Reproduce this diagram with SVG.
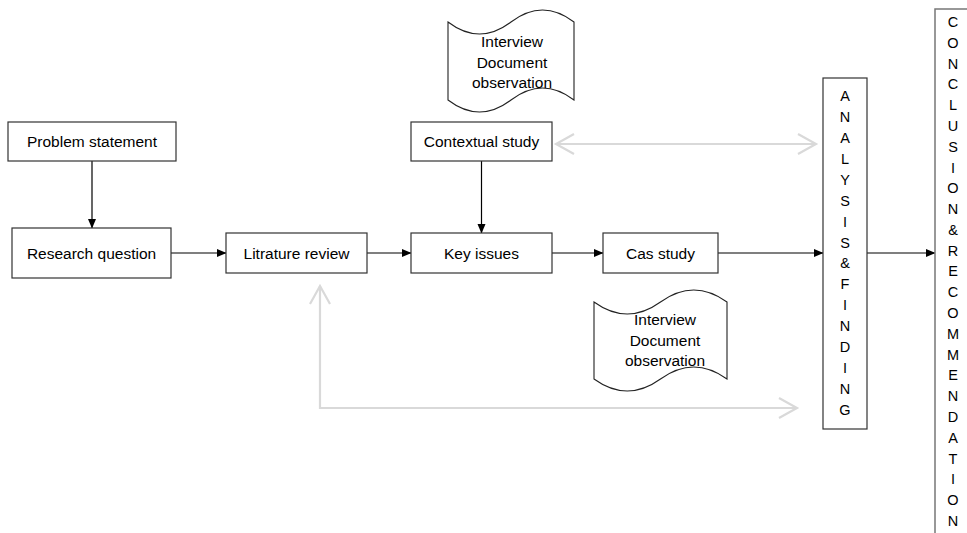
<svg xmlns="http://www.w3.org/2000/svg" width="967" height="533" viewBox="0 0 967 533">
<style>
  .box { fill: #ffffff; stroke: #333333; stroke-width: 1.2; }
  .doc { fill: #ffffff; stroke: #222222; stroke-width: 1.1; }
  .lbl { font-family: "Liberation Sans", Arial, sans-serif; font-size: 15.5px; fill: #000000; text-anchor: middle; }
  .vlbl { font-family: "Liberation Sans", Arial, sans-serif; font-size: 14.5px; fill: #000000; text-anchor: middle; }
  .conn { fill: none; stroke: #000000; stroke-width: 1.2; }
  .gray { fill: none; stroke: #d9d9d9; stroke-width: 2.2; }
</style>
<defs>
  <marker id="ah" markerWidth="10" markerHeight="10" refX="9" refY="5" orient="auto" markerUnits="userSpaceOnUse">
    <path d="M0,1 L9.5,5 L0,9 Z" fill="#000000"/>
  </marker>
  <marker id="gh" markerWidth="22" markerHeight="24" refX="19" refY="12" orient="auto-start-reverse" markerUnits="userSpaceOnUse">
    <path d="M1,2 L19,12 L1,22" fill="none" stroke="#d9d9d9" stroke-width="2.2"/>
  </marker>
</defs>
<rect width="967" height="533" fill="#ffffff"/>

<g id="connectors">
  <line class="conn" x1="92" y1="161" x2="92" y2="228" marker-end="url(#ah)"/>
  <line class="conn" x1="171" y1="253" x2="226" y2="253" marker-end="url(#ah)"/>
  <line class="conn" x1="367" y1="253" x2="411" y2="253" marker-end="url(#ah)"/>
  <line class="conn" x1="481.5" y1="161" x2="481.5" y2="233" marker-end="url(#ah)"/>
  <line class="conn" x1="552" y1="253" x2="603" y2="253" marker-end="url(#ah)"/>
  <line class="conn" x1="718" y1="253" x2="823" y2="253" marker-end="url(#ah)"/>
  <line class="conn" x1="867" y1="253" x2="935" y2="253" marker-end="url(#ah)"/>
  <line class="gray" x1="556" y1="144" x2="816" y2="144" marker-start="url(#gh)" marker-end="url(#gh)"/>
  <path class="gray" d="M320,286 L320,408 L797,408" marker-start="url(#gh)" marker-end="url(#gh)"/>
</g>

<g id="problem-statement">
  <rect class="box" x="8" y="122" width="168" height="39"/>
  <text class="lbl" x="92" y="146.5">Problem statement</text>
</g>
<g id="research-question">
  <rect class="box" x="12" y="228" width="159" height="50"/>
  <text class="lbl" x="91.5" y="258.5">Research question</text>
</g>
<g id="litrature-review">
  <rect class="box" x="226" y="233" width="141" height="40"/>
  <text class="lbl" x="296.5" y="258.5">Litrature review</text>
</g>
<g id="key-issues">
  <rect class="box" x="411" y="233" width="141" height="40"/>
  <text class="lbl" x="481.5" y="258.5">Key issues</text>
</g>
<g id="cas-study">
  <rect class="box" x="603" y="233" width="115" height="40"/>
  <text class="lbl" x="660.5" y="258.5">Cas study</text>
</g>
<g id="contextual-study">
  <rect class="box" x="411" y="122" width="141" height="39"/>
  <text class="lbl" x="481.5" y="147">Contextual study</text>
</g>
<g id="doc-top">
  <path class="doc" d="M448,22 Q479.5,46 511,22 T574,22 L574,100 Q542.5,76 511,100 T448,100 Z"/>
  <text class="lbl" x="512" y="47">Interview</text>
  <text class="lbl" x="512" y="67.5">Document</text>
  <text class="lbl" x="512" y="87.5">observation</text>
</g>
<g id="doc-bottom">
  <path class="doc" d="M594,302 Q627.25,326 660.5,302 T727,302 L727,379 Q693.75,355 660.5,379 T594,379 Z"/>
  <text class="lbl" x="665" y="325">Interview</text>
  <text class="lbl" x="665" y="345.5">Document</text>
  <text class="lbl" x="665" y="366">observation</text>
</g>
<g id="analysis-finding">
  <rect class="box" x="823" y="78" width="44" height="351"/>
  <text class="vlbl" x="845" y="101"><tspan x="845">A</tspan><tspan x="845" dy="20.93">N</tspan><tspan x="845" dy="20.93">A</tspan><tspan x="845" dy="20.93">L</tspan><tspan x="845" dy="20.93">Y</tspan><tspan x="845" dy="20.93">S</tspan><tspan x="845" dy="20.93">I</tspan><tspan x="845" dy="20.93">S</tspan><tspan x="845" dy="20.93">&amp;</tspan><tspan x="845" dy="20.93">F</tspan><tspan x="845" dy="20.93">I</tspan><tspan x="845" dy="20.93">N</tspan><tspan x="845" dy="20.93">D</tspan><tspan x="845" dy="20.93">I</tspan><tspan x="845" dy="20.93">N</tspan><tspan x="845" dy="20.93">G</tspan></text>
</g>
<g id="conclusion-recommendation">
  <rect x="935" y="9" width="60" height="540" fill="#ffffff" stroke="#777777" stroke-width="1.5"/>
  <text class="vlbl" x="953" y="27"><tspan x="953">C</tspan><tspan x="953" dy="20.79">O</tspan><tspan x="953" dy="20.79">N</tspan><tspan x="953" dy="20.79">C</tspan><tspan x="953" dy="20.79">L</tspan><tspan x="953" dy="20.79">U</tspan><tspan x="953" dy="20.79">S</tspan><tspan x="953" dy="20.79">I</tspan><tspan x="953" dy="20.79">O</tspan><tspan x="953" dy="20.79">N</tspan><tspan x="953" dy="20.79">&amp;</tspan><tspan x="953" dy="20.79">R</tspan><tspan x="953" dy="20.79">E</tspan><tspan x="953" dy="20.79">C</tspan><tspan x="953" dy="20.79">O</tspan><tspan x="953" dy="20.79">M</tspan><tspan x="953" dy="20.79">M</tspan><tspan x="953" dy="20.79">E</tspan><tspan x="953" dy="20.79">N</tspan><tspan x="953" dy="20.79">D</tspan><tspan x="953" dy="20.79">A</tspan><tspan x="953" dy="20.79">T</tspan><tspan x="953" dy="20.79">I</tspan><tspan x="953" dy="20.79">O</tspan><tspan x="953" dy="20.79">N</tspan></text>
</g>
</svg>
